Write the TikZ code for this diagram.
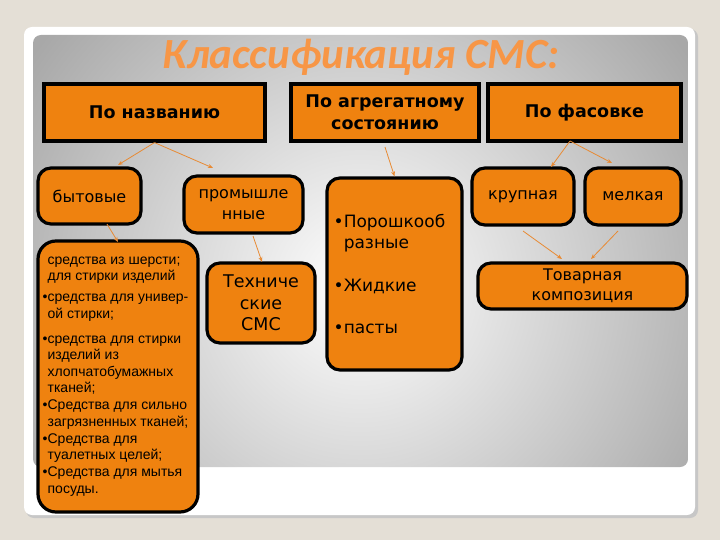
\documentclass[tikz,border=0pt]{standalone}
\usepackage{fontspec}
\setmainfont{DejaVu Sans}
\newfontfamily\listfont{Liberation Sans}
\newfontfamily\titlefont{Carlito}
\usepackage{tikz}
\usetikzlibrary{arrows.meta}
\definecolor{pagebg}{HTML}{E4DFD6}
\definecolor{boxfill}{HTML}{EF820F}
\definecolor{titleor}{HTML}{F79646}
\definecolor{arrowor}{HTML}{E88A33}
\tikzset{
  headbox/.style={draw=black, line width=3.2pt, fill=boxfill, inner sep=0pt,
    font=\bfseries\fontsize{17.5}{22}\selectfont, align=center},
  catbox/.style={draw=black, line width=3.2pt, fill=boxfill, inner sep=0pt,
    rounded corners=13pt, font=\fontsize{16}{21.5}\selectfont, align=center},
  arr/.style={draw=arrowor, line width=0.8pt, -{Stealth[length=5pt,width=4pt]}},
}

\begin{document}
\begin{tikzpicture}[x=1pt,y=-1pt]
% page and slide
\fill[pagebg] (0,0) rectangle (720,540);
\useasboundingbox (0,0) rectangle (720,540);
\fill[black!22, rounded corners=8pt] (26,29) rectangle (698,518);
\fill[white, rounded corners=8pt] (24,27) rectangle (695,515);
\begin{scope}
  \clip[rounded corners=8pt] (33,35) rectangle (688,467);
  \shade[inner color=white, outer color=gray!68] (-40,-114) rectangle (760,686);
\end{scope}

% title
\node[text=titleor, font=\titlefont\bfseries\itshape\fontsize{43}{45}\selectfont] (title) at (361,57) {Классификация СМС:};

% headers
\node[headbox, minimum width=221pt, minimum height=57pt] (nazv) at (154.5,112.5) {По названию};
\node[headbox, minimum width=188pt, minimum height=57pt] (agr) at (385,112.5) {По агрегатному\\состоянию};
\node[headbox, minimum width=193pt, minimum height=57pt] (fas) at (584.5,112.5) {По фасовке};

% second row
\node[catbox, minimum width=103pt, minimum height=56pt] (byt) at (89.5,196) {бытовые};
\node[catbox, minimum width=119pt, minimum height=57pt] (prom) at (243.5,204.5) {промышле\\нные};
\node[catbox, minimum width=135pt, minimum height=192pt, align=left,
  font=\fontsize{17}{21}\selectfont] (sost) at (394.5,274)
  {\llap{•}Порошкооб\\ разные\\[22pt]\llap{•}Жидкие\\[21pt]\llap{•}пасты};
\node[catbox, minimum width=102pt, minimum height=57pt] (krup) at (523,196.5) {\raisebox{-3pt}{крупная}};
\node[catbox, minimum width=96pt, minimum height=57pt] (melk) at (633,196.5) {\raisebox{-3pt}{мелкая}};

% third row
\node[catbox, rounded corners=18pt, minimum width=160pt, minimum height=271pt, align=left,
  font=\listfont\fontsize{14}{16.3}\selectfont] (spisok) at (118,376.5)
  {средства из шерсти;\\для стирки изделий\\[5pt]
   \llap{•}средства для универ-\\ой стирки;\\[9pt]
   \llap{•}средства для стирки\\изделий из\\хлопчатобумажных\\тканей;\\[1pt]
   \llap{•}Средства для сильно\\загрязненных тканей;\\[1pt]
   \llap{•}Средства для\\туалетных целей;\\[1pt]
   \llap{•}Средства для мытья\\посуды.};
\node[catbox, minimum width=108pt, minimum height=80pt, font=\fontsize{17.5}{21.5}\selectfont] (tech) at (261,303) {Техниче\\ские\\СМС};
\node[catbox, minimum width=209pt, minimum height=46pt, font=\fontsize{16}{20}\selectfont] (tov) at (582.5,286) {Товарная\\композиция};

% arrow ends
\coordinate (e1) at (118,165);
\coordinate (e2) at (213,168);
\coordinate (s3) at (385,147);
\coordinate (s4) at (570,141);
\coordinate (e4) at (551,167);
\coordinate (e5) at (612,163);
\coordinate (s6) at (107,224);
\coordinate (e6) at (118,242);
\coordinate (s7) at (253,236);
\coordinate (e7) at (262,262);
\coordinate (s8) at (523,231);
\coordinate (e8) at (562,259);
\coordinate (s9) at (618,231);
\coordinate (e9) at (591,259);

% arrows
\draw[arr] (nazv.south) -- (e1);
\draw[arr] (nazv.south) -- (e2);
\draw[arr] (s3) -- (sost.north);
\draw[arr] (s4) -- (e4);
\draw[arr] (s4) -- (e5);
\draw[arr] (s6) -- (e6);
\draw[arr] (s7) -- (e7);
\draw[arr] (s8) -- (e8);
\draw[arr] (s9) -- (e9);
\end{tikzpicture}
\end{document}
